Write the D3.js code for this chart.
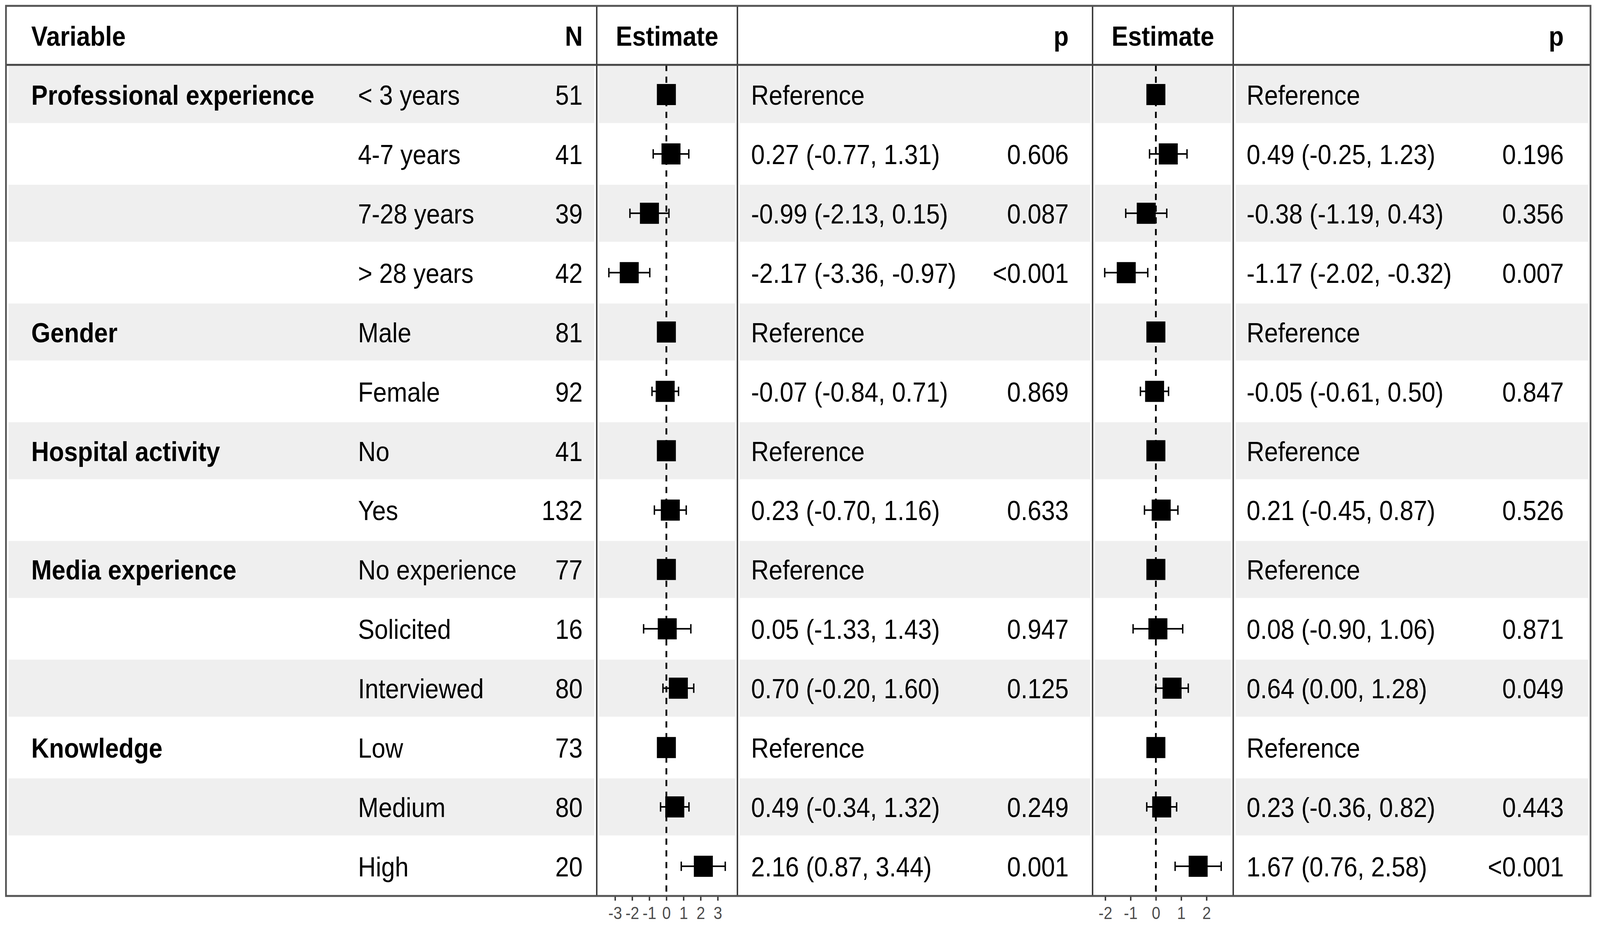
<!DOCTYPE html>
<html>
<head>
<meta charset="utf-8">
<script src="https://cdn.jsdelivr.net/npm/d3@7"></script>
<style>
  html, body { margin: 0; padding: 0; background: #fff; overflow: hidden; }
  svg { display: block; width: 100vw; height: 100vh; }
  text { font-family: "Liberation Sans", Arial, sans-serif; fill: #000; }
</style>
</head>
<body>
<div id="chart"></div>
<script>
// Table rows
const variables = ["Professional experience", "", "", "", "Gender", "", "Hospital activity", "",
    "Media experience", "", "", "Knowledge", "", ""];
const levels = ["< 3 years", "4-7 years", "7-28 years", "> 28 years", "Male", "Female", "No", "Yes",
    "No experience", "Solicited", "Interviewed", "Low", "Medium", "High"];
const counts = [51, 41, 39, 42, 81, 92, 41, 132, 77, 16, 80, 73, 80, 20];

// Model 1 (null = reference level)
const est1 = [null, 0.27, -0.99, -2.17, null, -0.07, null, 0.23, null, 0.05, 0.70, null, 0.49, 2.16];
const low1 = [null, -0.77, -2.13, -3.36, null, -0.84, null, -0.70, null, -1.33, -0.20, null, -0.34, 0.87];
const high1 = [null, 1.31, 0.15, -0.97, null, 0.71, null, 1.16, null, 1.43, 1.60, null, 1.32, 3.44];
const p1 = ["", "0.606", "0.087", "<0.001", "", "0.869", "", "0.633", "", "0.947", "0.125", "", "0.249", "0.001"];

// Model 2
const est2 = [null, 0.49, -0.38, -1.17, null, -0.05, null, 0.21, null, 0.08, 0.64, null, 0.23, 1.67];
const low2 = [null, -0.25, -1.19, -2.02, null, -0.61, null, -0.45, null, -0.90, 0.00, null, -0.36, 0.76];
const high2 = [null, 1.23, 0.43, -0.32, null, 0.50, null, 0.87, null, 1.06, 1.28, null, 0.82, 2.58];
const p2 = ["", "0.196", "0.356", "0.007", "", "0.847", "", "0.526", "", "0.871", "0.049", "", "0.443", "<0.001"];

const ticks1 = [-3, -2, -1, 0, 1, 2, 3];
const ticks2 = [-2, -1, 0, 1, 2];

const W = 4550, H = 2375;
const box = { left: 17, top: 15, right: 4523, bottom: 2293 };
const headerBottom = 166;
const dividers = [1697, 2097, 3107, 3507];
const fontSize = 70;

const svg = d3.select("#chart").append("svg")
    .attr("viewBox", `0 0 ${W} ${H}`)
    .attr("preserveAspectRatio", "none");

svg.append("rect").attr("width", W).attr("height", H).attr("fill", "#fff");

const rows = levels.map((lev, i) => ({
    i, variable: variables[i], level: lev, n: counts[i],
    m1: { est: est1[i], lo: low1[i], hi: high1[i], p: p1[i] },
    m2: { est: est2[i], lo: low2[i], hi: high2[i], p: p2[i] }
}));

const y = d3.scaleBand().domain(d3.range(rows.length)).range([headerBottom, box.bottom]);
const yc = i => y(i) + y.bandwidth() / 2;

const x1 = d3.scaleLinear().domain([-3, 3]).range([1749, 2041]);
const x2 = d3.scaleLinear().domain([-2, 2]).range([3143, 3431]);

// Alternating row shading, cut at column dividers
const sections = [box.left, ...dividers, box.right];
const shaded = rows.filter(d => d.i % 2 === 0);
shaded.forEach(d => {
    for (let s = 0; s < sections.length - 1; s++) {
        svg.append("rect")
            .attr("x", sections[s] + 7)
            .attr("y", y(d.i) + 3)
            .attr("width", sections[s + 1] - sections[s] - 14)
            .attr("height", y.bandwidth() - 6)
            .attr("fill", "#efefef");
    }
});

// Text columns
function textCol(values, x, anchor, weight) {
    svg.append("g").selectAll("text")
        .data(values)
        .join("text")
        .attr("x", x)
        .attr("y", (d, i) => yc(i) + 26)
        .attr("text-anchor", anchor)
        .attr("font-weight", weight || "normal")
        .attr("font-size", fontSize)
        .text(d => d);
}

// plain hyphen for negatives, like the source table
const fmt = d3.formatLocale({ decimal: ".", thousands: ",", grouping: [3], currency: ["", ""], minus: "-" }).format(".2f");
const estText = m => m.est === null ? "Reference" : `${fmt(m.est)} (${fmt(m.lo)}, ${fmt(m.hi)})`;

textCol(variables, 89, "start", "bold");
textCol(levels, 1018, "start");
textCol(counts, 1657, "end");
textCol(rows.map(d => estText(d.m1)), 2136, "start");
textCol(p1, 3039, "end");
textCol(rows.map(d => estText(d.m2)), 3545, "start");
textCol(p2, 4447, "end");

// Header
const headers = [
    { t: "Variable", x: 89, a: "start" },
    { t: "N", x: 1657, a: "end" },
    { t: "Estimate", x: (dividers[0] + dividers[1]) / 2, a: "middle" },
    { t: "p", x: 3039, a: "end" },
    { t: "Estimate", x: (dividers[2] + dividers[3]) / 2, a: "middle" },
    { t: "p", x: 4447, a: "end" }
];
svg.append("g").selectAll("text")
    .data(headers)
    .join("text")
    .attr("x", d => d.x)
    .attr("y", (box.top + headerBottom) / 2 + 27)
    .attr("text-anchor", d => d.a)
    .attr("font-weight", "bold")
    .attr("font-size", fontSize)
    .text(d => d.t);

// Forest panels
function forest(xScale, key, ticks) {
    const g = svg.append("g");

    g.append("line")
        .attr("x1", xScale(0)).attr("x2", xScale(0))
        .attr("y1", headerBottom).attr("y2", box.bottom)
        .attr("stroke", "#000")
        .attr("stroke-width", 5)
        .attr("stroke-dasharray", "16,14");

    const withCI = rows.filter(d => d[key].est !== null);

    g.selectAll(".ci")
        .data(withCI)
        .join("line")
        .attr("x1", d => xScale(d[key].lo))
        .attr("x2", d => xScale(d[key].hi))
        .attr("y1", d => yc(d.i)).attr("y2", d => yc(d.i))
        .attr("stroke", "#000").attr("stroke-width", 4);

    ["lo", "hi"].forEach(end => {
        g.selectAll(".cap-" + end)
            .data(withCI)
            .join("line")
            .attr("x1", d => xScale(d[key][end]))
            .attr("x2", d => xScale(d[key][end]))
            .attr("y1", d => yc(d.i) - 12).attr("y2", d => yc(d.i) + 12)
            .attr("stroke", "#000").attr("stroke-width", 4);
    });

    const s = 54;
    g.selectAll(".pt")
        .data(rows)
        .join("rect")
        .attr("x", d => xScale(d[key].est === null ? 0 : d[key].est) - s / 2)
        .attr("y", d => yc(d.i) - s / 2)
        .attr("width", s).attr("height", s)
        .attr("fill", "#000");

    const axis = svg.append("g")
        .attr("transform", `translate(0,${box.bottom + 2})`)
        .call(d3.axisBottom(xScale).tickValues(ticks).tickSize(10).tickPadding(16));
    axis.select(".domain").remove();
    axis.selectAll(".tick line").attr("stroke", "#333").attr("stroke-width", 4);
    axis.selectAll(".tick text")
        .attr("font-size", 44)
        .attr("font-family", "Liberation Sans, Arial, sans-serif")
        .style("fill", "#4d4d4d")
        .text(d => d < 0 ? "-" + Math.abs(d) : d);
}

forest(x1, "m1", ticks1);
forest(x2, "m2", ticks2);

// Grid lines and border
svg.append("g").selectAll("line")
    .data(dividers)
    .join("line")
    .attr("x1", d => d).attr("x2", d => d)
    .attr("y1", box.top).attr("y2", box.bottom)
    .attr("stroke", "#333").attr("stroke-width", 4);

svg.append("line")
    .attr("x1", box.left).attr("x2", box.right)
    .attr("y1", headerBottom).attr("y2", headerBottom)
    .attr("stroke", "#444").attr("stroke-width", 5);

svg.append("rect")
    .attr("x", box.left).attr("y", box.top)
    .attr("width", box.right - box.left)
    .attr("height", box.bottom - box.top)
    .attr("fill", "none")
    .attr("stroke", "#555")
    .attr("stroke-width", 5);
</script>
</body>
</html>
